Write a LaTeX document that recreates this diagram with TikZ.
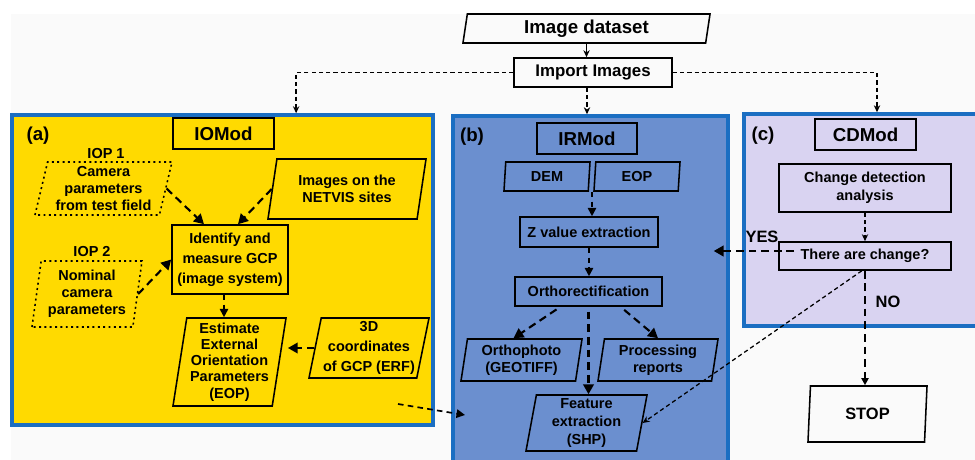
\documentclass[tikz,border=0pt]{standalone}
\usepackage{fontspec}
\setmainfont{Liberation Sans}
\usetikzlibrary{shapes.geometric,arrows.meta,calc}
\definecolor{pagegray}{HTML}{FAFAFA}
\definecolor{modyellow}{HTML}{FFDA00}
\definecolor{modblue}{HTML}{6B8FCF}
\definecolor{modlilac}{HTML}{D9D3F1}
\definecolor{modedge}{HTML}{1B6EC2}

\begin{document}
\begin{tikzpicture}[x=0.025cm, y=-0.025cm,
  txt/.style={font=\bfseries\fontsize{10.3}{12}\selectfont, align=center},
  module/.style={draw=modedge, line width=2.4pt, inner sep=0pt},
  title/.style={draw, line width=2pt, font=\bfseries\fontsize{13.3}{16}\selectfont, inner sep=0pt, minimum height=0.775cm},
  tag/.style={font=\bfseries\fontsize{13.3}{16}\selectfont, inner sep=0pt},
  proc/.style={txt, draw, line width=1.1pt, inner sep=0pt},
  para/.style={txt, draw, line width=1.1pt, trapezium, trapezium left angle=#1, trapezium right angle={180-#1}, trapezium stretches body, inner sep=0pt},
  para/.default=77,
  iop/.style={para=#1, dash pattern=on 1.4pt off 2.4pt},
  bigdash/.style={line width=1.5pt, dash pattern=on 5.5pt off 3.5pt, -{Triangle[length=7pt,width=7.5pt]}},
  middash/.style={line width=1.2pt, dash pattern=on 4pt off 3pt, -{Triangle[length=6pt,width=6pt]}},
  smalldash/.style={line width=0.9pt, dash pattern=on 3pt off 2.2pt, -{Stealth[length=5pt,width=4.5pt]}},
]
  % Page and background
  \useasboundingbox (0,0) rectangle (975,460);
  \fill[white] (0,0) rectangle (975,460);
  \fill[pagegray] (11,14) rectangle (975,460);

  % The three modules
  \node[module, fill=modyellow, minimum width=10.525cm, minimum height=7.75cm] (boxA) at (222.5,270) {};
  \node[module, fill=modblue, minimum width=6.875cm, minimum height=8.975cm] (boxB) at (590.5,295.5) {};
  \node[module, fill=modlilac, minimum width=5.9cm, minimum height=5.3cm] (boxC) at (862,220) {};

  % Input
  \node[para=76, font=\bfseries\fontsize{13.3}{16}\selectfont, minimum width=6.175cm, minimum height=0.725cm] (imgset) at (586.5,28.5) {Image dataset};
  \node[proc, font=\bfseries\fontsize{12}{14}\selectfont, minimum width=3.95cm, minimum height=0.725cm] (import) at (593,72.5) {Import Images};

  % (a) IOMod
  \node[tag] (tagA) at (38,136) {(a)};
  \node[title, minimum width=2.525cm] (iomod) at (223.5,133.5) {IOMod};
  \node[txt, inner sep=0pt] (iop1lab) at (106,154) {IOP 1};
  \node[iop=74, minimum width=3.425cm, minimum height=1.325cm] (iop1) at (103.5,188.5) {Camera\\parameters\\from test field};
  \node[txt, inner sep=0pt] (iop2lab) at (92,252) {IOP 2};
  \node[iop=79, minimum width=2.75cm, minimum height=1.65cm] (iop2) at (87,294) {Nominal\\camera\\parameters};
  \node[para=72, minimum width=3.95cm, minimum height=1.5cm] (netvis) at (347,189) {Images on the\\NETVIS sites};
  \node[proc, font=\bfseries\fontsize{10.3}{14.2}\selectfont, minimum width=2.9cm, minimum height=1.725cm] (identify) at (230,259.5) {Identify and\\measure GCP\\(image system)};
  \node[para=80, font=\bfseries\fontsize{10.3}{11.5}\selectfont, minimum width=2.825cm, minimum height=2.2cm] (estimate) at (229.5,362) {Estimate\\External\\Orientation\\Parameters\\(EOP)};
  \node[para=77, font=\bfseries\fontsize{10.3}{14.2}\selectfont, minimum width=3cm, minimum height=1.5cm] (coords) at (369,348) {3D\\coordinates\\of GCP (ERF)};

  % (b) IRMod
  \node[tag] (tagB) at (472,137) {(b)};
  \node[title, minimum width=2.5cm] (irmod) at (587,138.5) {IRMod};
  \node[para=80, minimum width=2.15cm, minimum height=0.725cm] (dem) at (547,176.5) {DEM};
  \node[para=80, minimum width=2.15cm, minimum height=0.725cm] (eop) at (637,176.5) {EOP};
  \node[proc, minimum width=3.45cm, minimum height=0.75cm] (zval) at (589,232) {Z value extraction};
  \node[proc, minimum width=3.675cm, minimum height=0.725cm] (ortho) at (588.5,291.5) {Orthorectification};
  \node[para=78, minimum width=3.025cm, minimum height=1.05cm] (orthophoto) at (521.5,360) {Orthophoto\\(GEOTIFF)};
  \node[para=78, minimum width=3cm, minimum height=1.05cm] (procrep) at (658,360) {Processing\\reports};
  \node[para=78, font=\bfseries\fontsize{10.3}{12.8}\selectfont, minimum width=3.025cm, minimum height=1.4cm] (feature) at (586.5,423) {Feature\\extraction\\(SHP)};

  % (c) CDMod
  \node[tag] (tagC) at (763,136) {(c)};
  \node[title, minimum width=2.525cm] (cdmod) at (865.5,134.5) {CDMod};
  \node[proc, font=\bfseries\fontsize{10.3}{12.8}\selectfont, minimum width=4.3cm, minimum height=1.2cm] (cda) at (865,188) {Change detection\\analysis};
  \node[proc, minimum width=4.3cm, minimum height=0.7cm] (change) at (865,256) {There are change?};
  \node[para=78, font=\bfseries\fontsize{11.7}{14}\selectfont, minimum width=2.975cm, minimum height=1.4cm] (stop) at (867.5,414) {STOP};
  \node[tag, font=\bfseries\fontsize{11.7}{14}\selectfont] (yes) at (762,237) {YES};
  \node[tag, font=\bfseries\fontsize{11.7}{14}\selectfont] (no) at (888,302) {NO};

  % Input flow
  \draw[line width=0.9pt, -{Stealth[length=5pt,width=4.5pt]}] (imgset.south) -- (imgset.south |- import.north);
  \draw[smalldash] (import.west) -| ([xshift=1.84cm]boxA.north);
  \draw[smalldash] ([xshift=-0.15cm]import.south) -- ([xshift=-0.15cm]import.south |- boxB.north);
  \draw[smalldash] (import.east) -| ([xshift=0.375cm]boxC.north);

  % Arrows in (a)
  \draw[bigdash] (iop1.east) -- ([xshift=-0.65cm]identify.north);
  \draw[bigdash] (netvis.west) -- ([xshift=0.2cm]identify.north);
  \draw[bigdash] (iop2.east) -- (identify.west);
  \draw[middash] ([xshift=-0.15cm]identify.south) -- ([xshift=-0.15cm]identify.south |- estimate.north);
  \draw[bigdash, shorten >=0.2cm] (coords.west) -- (coords.west -| estimate.east);
  \coordinate (linkA) at (398,404);
  \coordinate (linkB) at (465,415);
  \draw[middash] (linkA) -- (linkB); % from (a) into (b)

  % Arrows in (b)
  \coordinate (demeop) at ($(dem.south)!0.5!(eop.south)$);
  \draw[middash] (demeop) -- (demeop |- zval.north);
  \draw[middash] (zval.south) -- (zval.south |- ortho.north);
  \draw[bigdash, shorten <=0.12cm] ([xshift=-0.7cm]ortho.south) -- ([xshift=-0.2cm]orthophoto.north);
  \draw[bigdash, shorten <=0.12cm] ([xshift=0.8cm]ortho.south) -- (procrep.north);
  \draw[bigdash, shorten <=0.12cm] (ortho.south) -- (ortho.south |- feature.north);

  % Arrows in (c)
  \draw[smalldash] (cda.south) -- (change.north);
  \draw[bigdash] ($(change.west)+(16,-5)$) -- ($(change.west -| boxB.east)+(-16,-5)$); % YES
  \draw[bigdash, -{Triangle[length=5pt,width=5pt]}] (change.south) -- (change.south |- stop.north); % NO
  \draw[smalldash] ([xshift=-0.08cm]change.south) -- (feature.east);
\end{tikzpicture}
\end{document}
